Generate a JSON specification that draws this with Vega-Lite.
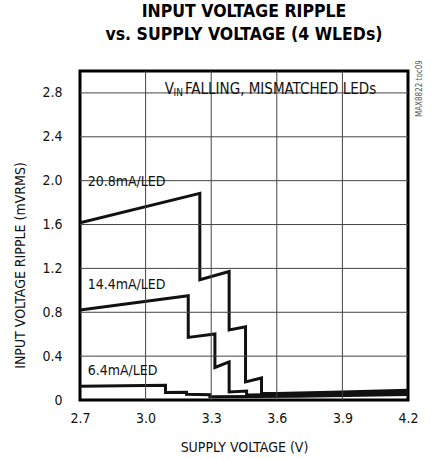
{
  "$schema": "https://vega.github.io/schema/vega-lite/v6.json",
  "width": 328,
  "height": 329,
  "autosize": "none",
  "padding": {"left": 80, "top": 71, "right": 23, "bottom": 59},
  "background": "white",
  "config": {
    "font": "DejaVu Sans Condensed",
    "view": {"stroke": "black", "strokeWidth": 3},
    "axis": {"labelFont": "DejaVu Sans Condensed", "titleFont": "DejaVu Sans Condensed", "labelFontSize": 14, "titleFontSize": 14, "titleFontWeight": "normal", "labelColor": "#111", "titleColor": "#111", "domain": false, "ticks": false}
  },
  "title": {
    "text": ["INPUT VOLTAGE RIPPLE", "vs. SUPPLY VOLTAGE (4 WLEDs)"],
    "font": "DejaVu Sans Condensed",
    "fontSize": 17.5,
    "fontWeight": "bold",
    "color": "#000",
    "anchor": "middle",
    "lineHeight": 23,
    "offset": 17
  },
  "data": {
    "values": [
      {"series": "20.8mA/LED", "i": 1, "v": 2.7, "r": 1.615},
      {"series": "20.8mA/LED", "i": 2, "v": 3.248, "r": 1.884},
      {"series": "20.8mA/LED", "i": 3, "v": 3.248, "r": 1.096},
      {"series": "20.8mA/LED", "i": 4, "v": 3.382, "r": 1.172},
      {"series": "20.8mA/LED", "i": 5, "v": 3.382, "r": 0.638},
      {"series": "20.8mA/LED", "i": 6, "v": 3.457, "r": 0.668},
      {"series": "20.8mA/LED", "i": 7, "v": 3.457, "r": 0.165},
      {"series": "20.8mA/LED", "i": 8, "v": 3.53, "r": 0.201},
      {"series": "20.8mA/LED", "i": 9, "v": 3.53, "r": 0.06},
      {"series": "20.8mA/LED", "i": 10, "v": 3.6, "r": 0.06},
      {"series": "20.8mA/LED", "i": 11, "v": 3.9, "r": 0.072},
      {"series": "20.8mA/LED", "i": 12, "v": 4.2, "r": 0.09},
      {"series": "14.4mA/LED", "i": 1, "v": 2.7, "r": 0.82},
      {"series": "14.4mA/LED", "i": 2, "v": 3.195, "r": 0.95},
      {"series": "14.4mA/LED", "i": 3, "v": 3.195, "r": 0.571},
      {"series": "14.4mA/LED", "i": 4, "v": 3.317, "r": 0.602},
      {"series": "14.4mA/LED", "i": 5, "v": 3.317, "r": 0.297},
      {"series": "14.4mA/LED", "i": 6, "v": 3.382, "r": 0.348},
      {"series": "14.4mA/LED", "i": 7, "v": 3.382, "r": 0.073},
      {"series": "14.4mA/LED", "i": 8, "v": 3.462, "r": 0.082},
      {"series": "14.4mA/LED", "i": 9, "v": 3.462, "r": 0.045},
      {"series": "14.4mA/LED", "i": 10, "v": 3.9, "r": 0.055},
      {"series": "14.4mA/LED", "i": 11, "v": 4.2, "r": 0.07},
      {"series": "6.4mA/LED", "i": 1, "v": 2.7, "r": 0.125},
      {"series": "6.4mA/LED", "i": 2, "v": 3.091, "r": 0.135},
      {"series": "6.4mA/LED", "i": 3, "v": 3.091, "r": 0.068},
      {"series": "6.4mA/LED", "i": 4, "v": 3.187, "r": 0.07},
      {"series": "6.4mA/LED", "i": 5, "v": 3.187, "r": 0.052},
      {"series": "6.4mA/LED", "i": 6, "v": 3.294, "r": 0.048},
      {"series": "6.4mA/LED", "i": 7, "v": 3.294, "r": 0.03},
      {"series": "6.4mA/LED", "i": 8, "v": 3.7, "r": 0.035},
      {"series": "6.4mA/LED", "i": 9, "v": 4.2, "r": 0.05}
    ]
  },
  "layer": [
    {
      "mark": {"type": "line", "color": "#111", "strokeWidth": 3, "strokeJoin": "miter", "clip": true},
      "encoding": {
        "x": {"field": "v", "type": "quantitative", "scale": {"domain": [2.7, 4.2], "nice": false, "padding": 0, "zero": false}, "axis": {"grid": false, "labelFlush": false, "values": [2.7, 3.0, 3.3, 3.6, 3.9, 4.2], "format": ".1f", "title": "SUPPLY VOLTAGE (V)", "labelPadding": 11, "titlePadding": 15}},
        "y": {"field": "r", "type": "quantitative", "scale": {"domain": [0, 3.0], "nice": false, "padding": 0}, "axis": {"grid": false, "labelFlush": false, "values": [0, 0.4, 0.8, 1.2, 1.6, 2.0, 2.4, 2.8], "labelExpr": "datum.value == 0 ? '0' : format(datum.value, '.1f')", "title": "INPUT VOLTAGE RIPPLE (mVRMS)", "labelPadding": 18, "titlePadding": 14, "titleY": 194}},
        "detail": {"field": "series"},
        "order": {"field": "i", "type": "quantitative"}
      }
    },
    {
      "data": {"values": [{"g": 3.0}, {"g": 3.3}, {"g": 3.6}, {"g": 3.9}]},
      "mark": {"type": "rule", "color": "#444", "strokeWidth": 1},
      "encoding": {"x": {"field": "g", "type": "quantitative"}}
    },
    {
      "data": {"values": [{"g": 0.4}, {"g": 0.8}, {"g": 1.2}, {"g": 1.6}, {"g": 2.0}, {"g": 2.4}, {"g": 2.8}]},
      "mark": {"type": "rule", "color": "#444", "strokeWidth": 1},
      "encoding": {"y": {"field": "g", "type": "quantitative"}}
    },
    {
      "data": {"values": [{}]},
      "mark": {"type": "text", "align": "left", "baseline": "middle", "fontSize": 14, "color": "#111", "font": "DejaVu Sans Condensed"},
      "encoding": {"x": {"datum": 2.735, "type": "quantitative"}, "y": {"datum": 1.99, "type": "quantitative"}, "text": {"value": "20.8mA/LED"}}
    },
    {
      "data": {"values": [{}]},
      "mark": {"type": "text", "align": "left", "baseline": "middle", "fontSize": 14, "color": "#111", "font": "DejaVu Sans Condensed"},
      "encoding": {"x": {"datum": 2.735, "type": "quantitative"}, "y": {"datum": 1.05, "type": "quantitative"}, "text": {"value": "14.4mA/LED"}}
    },
    {
      "data": {"values": [{}]},
      "mark": {"type": "text", "align": "left", "baseline": "middle", "fontSize": 14, "color": "#111", "font": "DejaVu Sans Condensed"},
      "encoding": {"x": {"datum": 2.735, "type": "quantitative"}, "y": {"datum": 0.265, "type": "quantitative"}, "text": {"value": "6.4mA/LED"}}
    },
    {
      "data": {"values": [{}]},
      "mark": {"type": "text", "align": "left", "baseline": "middle", "fontSize": 15, "color": "#111", "font": "DejaVu Sans Condensed"},
      "encoding": {"x": {"datum": 3.088, "type": "quantitative"}, "y": {"datum": 2.84, "type": "quantitative"}, "text": {"value": "V"}}
    },
    {
      "data": {"values": [{}]},
      "mark": {"type": "text", "align": "left", "baseline": "middle", "fontSize": 10, "color": "#111", "font": "DejaVu Sans Condensed", "dy": 4},
      "encoding": {"x": {"datum": 3.128, "type": "quantitative"}, "y": {"datum": 2.84, "type": "quantitative"}, "text": {"value": "IN"}}
    },
    {
      "data": {"values": [{}]},
      "mark": {"type": "text", "align": "left", "baseline": "middle", "fontSize": 15, "color": "#111", "font": "DejaVu Sans Condensed"},
      "encoding": {"x": {"datum": 3.18, "type": "quantitative"}, "y": {"datum": 2.84, "type": "quantitative"}, "text": {"value": "FALLING, MISMATCHED LEDs"}}
    },
    {
      "data": {"values": [{}]},
      "mark": {"type": "text", "align": "center", "baseline": "middle", "fontSize": 8, "color": "#555", "font": "DejaVu Sans Condensed", "angle": 270, "dy": 12},
      "encoding": {"x": {"datum": 4.2, "type": "quantitative"}, "y": {"datum": 2.84, "type": "quantitative"}, "text": {"value": "MAX8822 toc09"}}
    }
  ]
}
